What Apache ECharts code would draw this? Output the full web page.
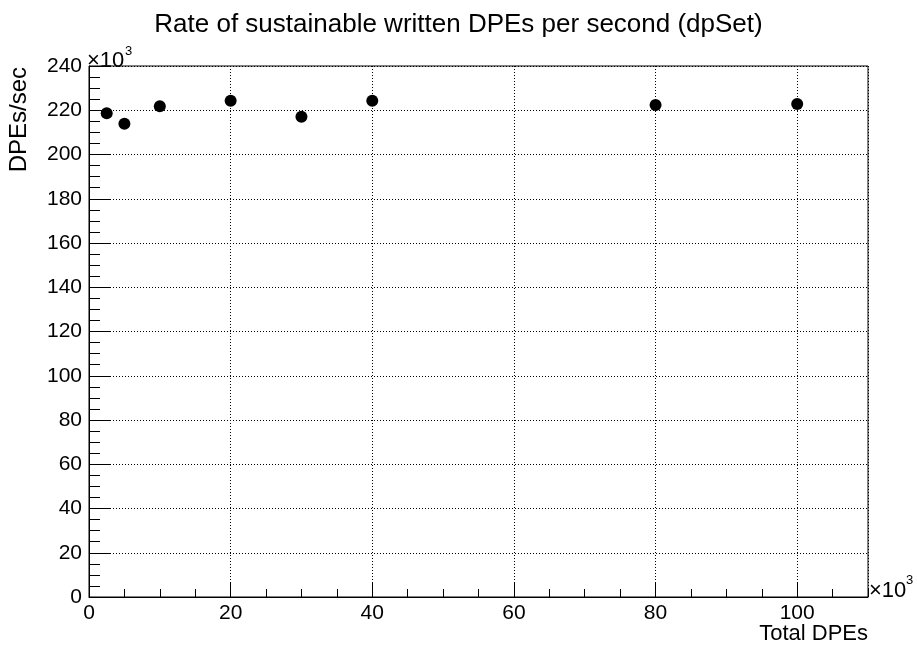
<!DOCTYPE html>
<html>
<head>
<meta charset="utf-8">
<script src="https://cdn.jsdelivr.net/npm/echarts@6/dist/echarts.min.js"></script>
<style>html,body{margin:0;padding:0;background:#fff}#c{width:917px;height:648px}</style>
</head>
<body>
<div id="c"></div>
<script>
// values in units of 10^3
const totalDPEs = [2.5, 5, 10, 20, 30, 40, 80, 100];
const ratePerSec = [218.6, 213.9, 221.8, 224.3, 217.1, 224.3, 222.4, 222.8];
const titleText = 'Rate of sustainable written DPEs per second (dpSet)';
const xName = 'Total DPEs';
const yName = 'DPEs/sec';

const FONT = '"Liberation Sans", Arial, Helvetica, sans-serif';
const chart = echarts.init(document.getElementById('c'), null, {renderer: 'canvas'});
const points = totalDPEs.map((x, i) => [x, ratePerSec[i]]);

chart.setOption({
  animation: false,
  backgroundColor: '#fff',
  title: {
    text: titleText, left: 'center', top: 7,
    textStyle: {fontFamily: FONT, fontSize: 26, fontWeight: 'normal', color: '#000'}
  },
  grid: {left: 89, right: 49, top: 66, bottom: 51, show: true, borderColor: '#000', borderWidth: 1},
  xAxis: [{
    type: 'value', min: 0, max: 110, interval: 20,
    axisLine: {show: true, onZero: false, lineStyle: {color: '#000', width: 1}},
    axisTick: {show: true, inside: true, length: 15, lineStyle: {color: '#000'}},
    axisLabel: {showMaxLabel: false, fontFamily: FONT, fontSize: 21, color: '#000', margin: 6,
      formatter: v => (v > 100 ? '' : String(v))},
    splitLine: {show: true, lineStyle: {color: '#000', type: [1, 2], width: 1}}
  }, {
    type: 'value', min: 0, max: 110, interval: 5, position: 'bottom',
    axisLine: {show: false, onZero: false},
    axisTick: {show: true, inside: true, length: 8, lineStyle: {color: '#000'}},
    axisLabel: {show: false},
    splitLine: {show: false}
  }],
  yAxis: [{
    type: 'value', min: 0, max: 240, interval: 20,
    axisLine: {show: true, onZero: false, lineStyle: {color: '#000', width: 1}},
    axisTick: {show: true, inside: true, length: 22, lineStyle: {color: '#000'}},
    minorTick: {show: true, splitNumber: 4, length: 11, lineStyle: {color: '#000'}},
    axisLabel: {fontFamily: FONT, fontSize: 21, color: '#000', margin: 7},
    splitLine: {show: true, lineStyle: {color: '#000', type: [1, 2], width: 1}}
  }],
  series: [{
    type: 'scatter', xAxisIndex: 0, yAxisIndex: 0,
    data: points, symbol: 'circle', symbolSize: 12,
    itemStyle: {color: '#000', opacity: 1}
  }],
  graphic: [
    {type: 'text', x: 19, y: 67, rotation: Math.PI / 2,
      style: {text: yName, font: '24px ' + FONT, fill: '#000', align: 'right', verticalAlign: 'middle'}},
    {type: 'text', x: 868, y: 634,
      style: {text: xName, font: '22px ' + FONT, fill: '#000', align: 'right', verticalAlign: 'middle'}},
    {type: 'text', x: 87, y: 61,
      style: {text: '\u00d710', font: '22px ' + FONT, fill: '#000', align: 'left', verticalAlign: 'middle'}},
    {type: 'text', x: 125, y: 51,
      style: {text: '3', font: '13px ' + FONT, fill: '#000', align: 'left', verticalAlign: 'middle'}},
    {type: 'text', x: 869, y: 591,
      style: {text: '\u00d710', font: '22px ' + FONT, fill: '#000', align: 'left', verticalAlign: 'middle'}},
    {type: 'text', x: 906, y: 580,
      style: {text: '3', font: '13px ' + FONT, fill: '#000', align: 'left', verticalAlign: 'middle'}}
  ]
});
</script>
</body>
</html>
